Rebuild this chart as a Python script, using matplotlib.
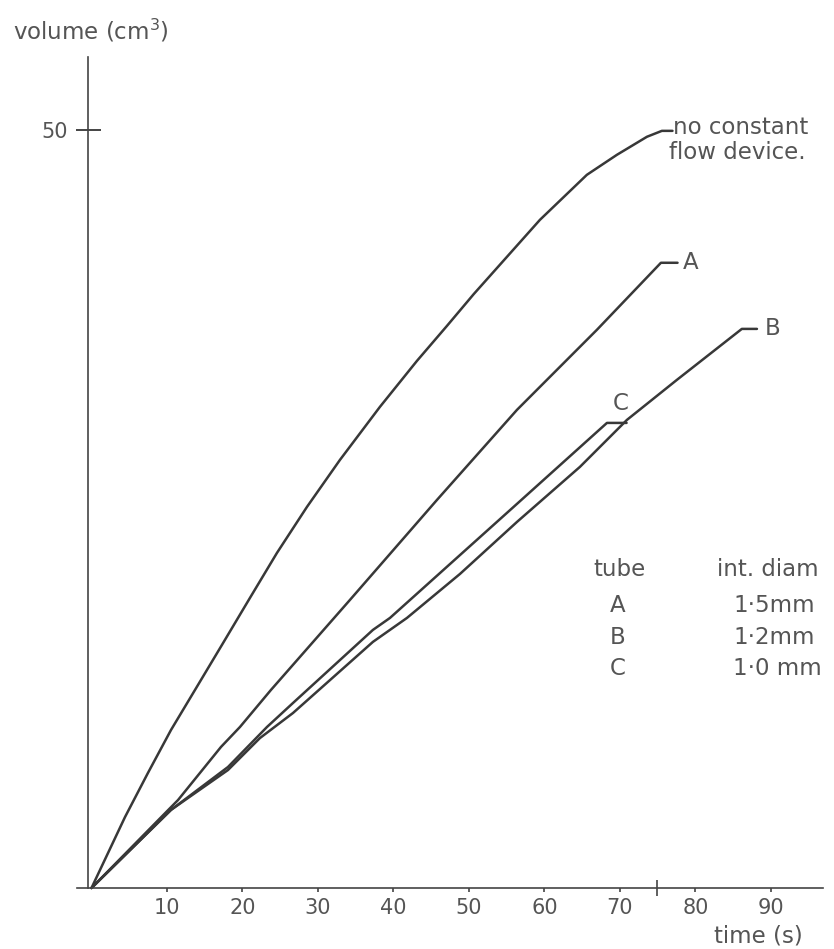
import matplotlib as mpl
mpl.use('Agg')
import matplotlib.pyplot as plt

# readings: time (s) and volume (cm3)
time_free = [0, 4.44, 7.48, 10.53, 13.71, 17.28, 20.99, 24.57, 28.54, 32.91, 38.21,
             43.11, 47.09, 50.66, 55.03, 59.40, 65.62, 69.60, 73.58, 75.56]
vol_free = [0, 4.68, 7.59, 10.42, 13.06, 16.03, 19.13, 22.10, 25.13, 28.23, 31.73,
            34.76, 37.07, 39.18, 41.62, 44.06, 47.03, 48.35, 49.54, 49.93]

time_a = [0, 11.46, 17.15, 19.67, 23.77, 34.24, 45.76, 56.36, 60.33, 66.95, 75.43]
vol_a = [0, 5.80, 9.30, 10.62, 13.06, 19.00, 25.59, 31.53, 33.51, 36.81, 41.23]

time_b = [0, 10.53, 18.08, 22.32, 26.69, 37.28, 41.79, 48.81, 56.36, 64.70, 70.93, 77.55, 86.15]
vol_b = [0, 5.15, 7.78, 9.89, 11.54, 16.23, 17.81, 20.71, 24.14, 27.77, 30.87, 33.51, 36.87]

time_c = [0, 10.53, 18.08, 23.25, 26.69, 37.28, 39.54, 56.36, 68.28]
vol_c = [0, 5.15, 7.98, 10.62, 12.20, 17.02, 17.81, 25.33, 30.67]

tubes = ['A', 'B', 'C']
diameters = ['1·5mm', '1·2mm', '1·0 mm']

xticks = [10, 20, 30, 40, 50, 60, 70, 80, 90]
yticks = [50]

ink = '#383838'
txt = '#555555'
fs = 16.5

fig = plt.figure(figsize=(8.34, 9.49), dpi=100)
ax = fig.add_axes([77 / 834, 1 - 888 / 949, (823 - 77) / 834, (888 - 57) / 949])
ax.set_xlim(-1.92, 96.9)
ax.set_ylim(0, 54.8)

for s in ['top', 'right']:
    ax.spines[s].set_visible(False)
ax.spines['left'].set_position(('data', -0.5))
for s in ['left', 'bottom']:
    ax.spines[s].set_color('#444444')
    ax.spines[s].set_linewidth(1.2)

ax.set_xticks(xticks)
ax.set_xticks([time_free[-1] - 0.7], minor=True)
ax.set_yticks(yticks)
ax.tick_params(axis='x', which='major', direction='out', length=3, width=1.2,
               color='#444444', labelsize=15, labelcolor=txt, pad=4)
ax.tick_params(axis='x', which='minor', direction='inout', length=11, width=1.2,
               color='#444444')
ax.tick_params(axis='y', direction='inout', length=18, width=1.4,
               color='#444444', labelsize=15, labelcolor=txt, pad=5)


def curve(t, v, lead):
    # curve plus the short horizontal leader to its label
    ax.plot(t + [t[-1] + lead], v + [v[-1]], color=ink, lw=1.8,
            solid_joinstyle='round', solid_capstyle='round', clip_on=False)


curve(time_free, vol_free, 1.4)
curve(time_a, vol_a, 2.2)
curve(time_b, vol_b, 2.0)
curve(time_c, vol_c, 2.6)

ax.text(time_free[-1] + 1.5, vol_free[-1] + 0.25, 'no constant', fontsize=fs,
        color=txt, ha='left', va='center')
ax.text(time_free[-1] + 0.9, vol_free[-1] - 1.4, 'flow device.', fontsize=fs,
        color=txt, ha='left', va='center')
ax.text(time_a[-1] + 2.9, vol_a[-1], 'A', fontsize=fs, color=txt, ha='left', va='center')
ax.text(time_b[-1] + 3.1, vol_b[-1], 'B', fontsize=fs, color=txt, ha='left', va='center')
ax.text(time_c[-1] + 1.8, vol_c[-1] + 1.3, 'C', fontsize=fs, color=txt, ha='center', va='center')

# key table
ax.text(70.0, 21.0, 'tube', fontsize=fs, color=txt, ha='center', va='center')
ax.text(82.9, 21.0, 'int. diam', fontsize=fs, color=txt, ha='left', va='center')
for i, (tb, d) in enumerate(zip(tubes, diameters)):
    y = 18.6 - 2.05 * i
    ax.text(69.7, y, tb, fontsize=fs, color=txt, ha='center', va='center')
    ax.text(85.0, y, d, fontsize=fs, color=txt, ha='left', va='center')

fig.text(13 / 834, 1 - 31 / 949, r'volume (cm$^{\mathregular{3}}$)', fontsize=fs,
         color=txt, ha='left', va='center')
fig.text(758 / 834, 1 - 936 / 949, 'time (s)', fontsize=fs, color=txt,
         ha='center', va='center')

fig.savefig('out.png', dpi=100)
